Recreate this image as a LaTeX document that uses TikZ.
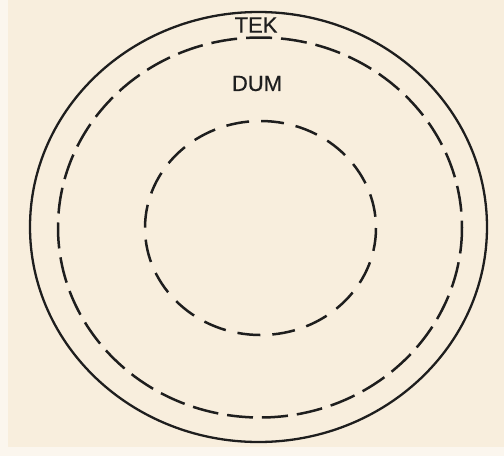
\documentclass[tikz,border=0pt]{standalone}
\usepackage{fontspec}
\setmainfont{Liberation Sans}
\definecolor{paper}{HTML}{F8EEDD}
\definecolor{paperlight}{HTML}{FBF6EE}
\definecolor{ink}{HTML}{1E1E1E}
\begin{document}
\begin{tikzpicture}[x=1pt,y=-1pt,
  solidring/.style={draw=ink,line width=2.3pt},
  dashring/.style={draw=ink,line width=2.5pt,dash pattern=on 26pt off 9pt},
  dashinner/.style={draw=ink,line width=2.5pt,dash pattern=on 23pt off 12pt},
  lbl/.style={font=\fontsize{22}{24}\selectfont,text=ink,inner sep=0pt}]
\useasboundingbox (0,0) rectangle (504,456);
\fill[paper] (0,0) rectangle (504,456);
\fill[paperlight] (0,0) rectangle (8,456);
\fill[paperlight] (0,447) rectangle (504,456);
\draw[solidring] (258.5,227) ellipse [x radius=228.5, y radius=215];
\draw[dashring] (260,227.5) ellipse [x radius=202, y radius=190];
\draw[dashinner] (260.5,228) ellipse [x radius=115.5, y radius=107];
\node[lbl] (tek) at (256,25) {\addfontfeature{FakeBold=0.6}TEK};
\node[lbl] (dum) at (257,83.5) {\addfontfeature{FakeBold=0.6}DUM};
\end{tikzpicture}
\end{document}
